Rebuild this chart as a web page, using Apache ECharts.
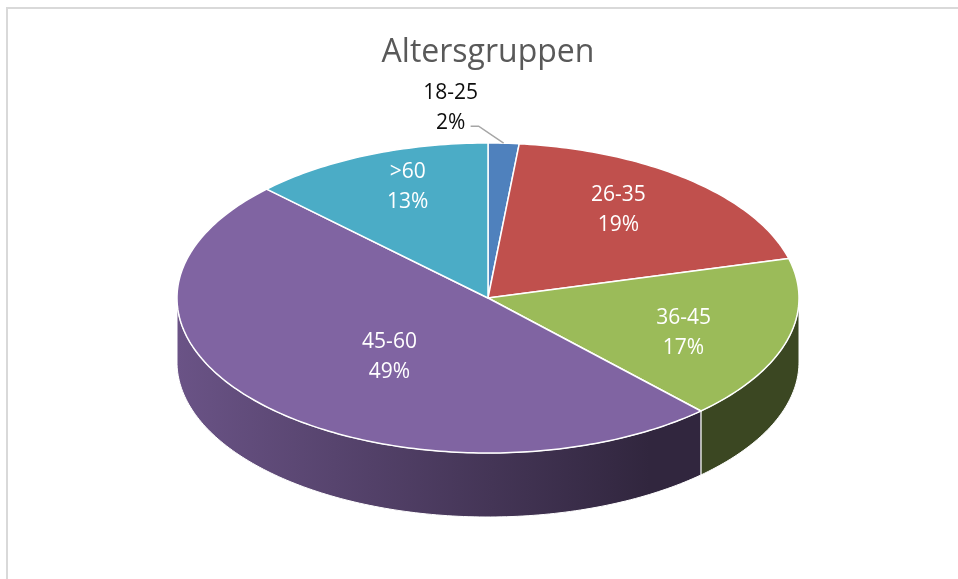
<!DOCTYPE html>
<html>
<head>
<meta charset="utf-8">
<script src="https://cdn.jsdelivr.net/npm/echarts@6/dist/echarts.min.js"></script>
<style>html,body{margin:0;padding:0;background:#fff;}#chart{width:958px;height:579px;}</style>
</head>
<body>
<div id="chart"></div>
<script>
// Data
const titleText = 'Altersgruppen';
const categories = ['18-25', '26-35', '36-45', '45-60', '>60'];
const values = [1.6, 19.3, 17.1, 49.4, 12.6];
const colors = ['#4F81BD', '#C0504D', '#9BBB59', '#8064A2', '#4BACC6'];

// Layout (pie ellipse geometry)
const CX = 488, CY = 298, RX = 311, RY = 155, DEPTH = 64;
const FONT = '"Open Sans", "Liberation Sans", sans-serif';

const total = values.reduce((a, b) => a + b, 0);
const starts = [];
let acc = 0;
values.forEach(v => { starts.push(acc / total * 360); acc += v; });

function pt(deg, dy) {
  const r = deg * Math.PI / 180;
  return [CX + RX * Math.sin(r), CY - RY * Math.cos(r) + (dy || 0)];
}
function arc(a0, a1, dy) {
  const pts = [];
  const n = Math.max(2, Math.ceil(Math.abs(a1 - a0)));
  for (let i = 0; i <= n; i++) pts.push(pt(a0 + (a1 - a0) * i / n, dy));
  return pts;
}
function shade(hex, f) {
  const n = parseInt(hex.slice(1), 16);
  const r = Math.round(((n >> 16) & 255) * f), g = Math.round(((n >> 8) & 255) * f), b = Math.round((n & 255) * f);
  return 'rgb(' + r + ',' + g + ',' + b + ')';
}

function renderItem(params, api) {
  const i = params.dataIndex;
  const v = api.value(1);
  const a0 = starts[i];
  const a1 = a0 + v / total * 360;
  const col = colors[i];
  const children = [];

  // side wall (front half only: 90..270 deg)
  const s0 = Math.max(a0, 90), s1 = Math.min(a1, 270);
  if (s0 < s1) {
    const pts = arc(s0, s1, 0).concat(arc(s1, s0, DEPTH));
    children.push({
      type: 'polygon', z2: 1,
      shape: { points: pts },
      style: {
        fill: new echarts.graphic.LinearGradient(CX - RX, 0, CX + RX, 0, [
          { offset: 0, color: shade(col, 0.83) },
          { offset: 0.76, color: shade(col, 0.38) },
          { offset: 1, color: shade(col, 0.38) }
        ], true),
        stroke: '#ffffff', lineWidth: 1
      }
    });
  }

  // top face
  const topPts = [[CX, CY]].concat(arc(a0, a1, 0));
  children.push({
    type: 'polygon', z2: 10,
    shape: { points: topPts },
    style: { fill: col, stroke: '#ffffff', lineWidth: 1.5, lineJoin: 'round' }
  });

  // label
  const pct = Math.round(v / total * 100);
  const mid = (a0 + a1) / 2;
  const midR = mid * Math.PI / 180;
  const txt = categories[i] + '\n' + pct + '%';
  if (pct < 5) {
    const anc = pt(mid, 0);
    children.push({
      type: 'polyline', z2: 20,
      shape: { points: [anc, [anc[0] - 25, anc[1] - 17], [anc[0] - 33, anc[1] - 17]] },
      style: { stroke: '#a6a6a6', lineWidth: 1.5, fill: null }
    });
    children.push({
      type: 'text', z2: 21,
      x: anc[0] - 53, y: anc[1] - 35,
      style: { text: txt, fill: '#0d0d0d', font: '21px ' + FONT, align: 'center', verticalAlign: 'middle', lineHeight: 30 }
    });
  } else {
    const alpha = (a1 - a0) * Math.PI / 180;
    const d = 4 * Math.sin(alpha / 2) / (3 * alpha);
    const lx = CX + d * RX * 1.03 * Math.sin(midR);
    const ly = CY - d * RY * 1.22 * Math.cos(midR) + 2;
    children.push({
      type: 'text', z2: 21,
      x: lx, y: ly,
      style: { text: txt, fill: '#ffffff', font: '21px ' + FONT, align: 'center', verticalAlign: 'middle', lineHeight: 30 }
    });
  }
  return { type: 'group', children: children };
}

const chart = echarts.init(document.getElementById('chart'), null, { renderer: 'canvas' });
chart.setOption({
  backgroundColor: '#ffffff',
  animation: false,
  graphic: [{
    type: 'rect', shape: { x: 7, y: 8, width: 1200, height: 1000 },
    style: { fill: 'none', stroke: '#d9d9d9', lineWidth: 2 }, z: -1
  }, {
    type: 'text', x: 488, y: 53,
    style: { text: titleText, fill: '#595959', font: '32px ' + FONT, align: 'center', verticalAlign: 'middle' }
  }],
  series: [{
    type: 'custom',
    coordinateSystem: 'none',
    renderItem: renderItem,
    data: values.map((v, i) => [i, v])
  }]
});
</script>
</body>
</html>
